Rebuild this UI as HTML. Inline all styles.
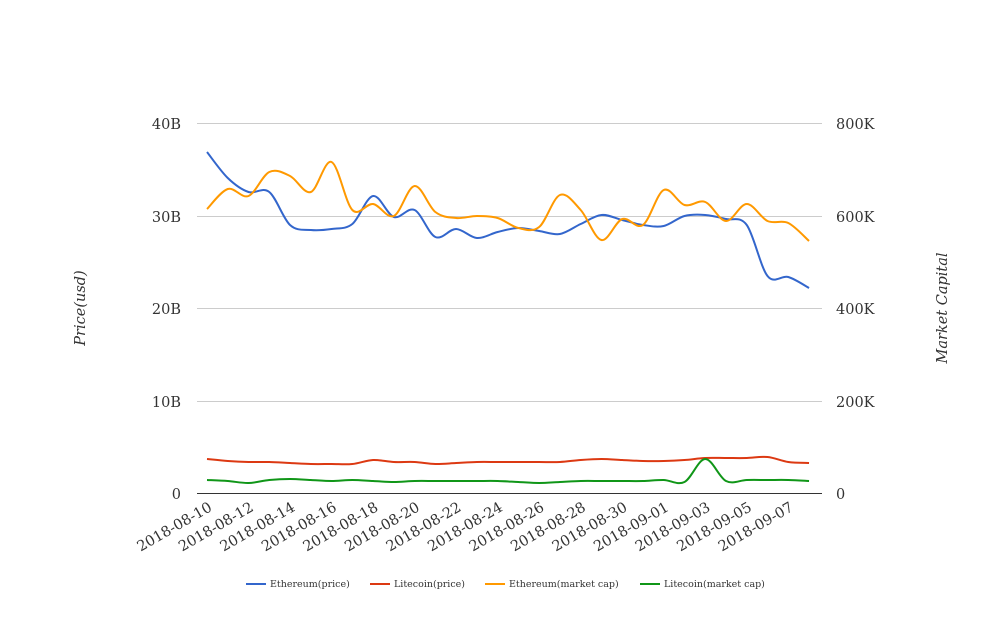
<!DOCTYPE html>
<html><head><meta charset="utf-8"><style>
body{margin:0;background:#fff}
svg text{font-family:"DejaVu Serif","Liberation Serif",serif;fill:#333}
</style></head><body>
<svg id="s" width="1008" height="616" xmlns="http://www.w3.org/2000/svg">
<g stroke="#ccc" stroke-width="1">
<line x1="197" x2="822" y1="123.5" y2="123.5"/>
<line x1="197" x2="822" y1="216.5" y2="216.5"/>
<line x1="197" x2="822" y1="308.5" y2="308.5"/>
<line x1="197" x2="822" y1="401.5" y2="401.5"/>
</g>
<line x1="197" x2="822" y1="493.5" y2="493.5" stroke="#333"/>
<g font-size="14.5" text-anchor="end">
<text x="181" y="129">40B</text><text x="181" y="222">30B</text><text x="181" y="314">20B</text><text x="181" y="407">10B</text><text x="181" y="499">0</text>
</g>
<g font-size="14.5" text-anchor="start">
<text x="836" y="129">800K</text><text x="836" y="222">600K</text><text x="836" y="314">400K</text><text x="836" y="407">200K</text><text x="836" y="499">0</text>
</g>
<text transform="translate(85,308) rotate(-90)" font-size="14.5" font-style="italic" text-anchor="middle">Price(usd)</text>
<text transform="translate(947,308) rotate(-90)" font-size="14.5" font-style="italic" text-anchor="middle">Market Capital</text>
<g id="xl" font-size="14.5" text-anchor="end"></g>
<g id="lines" fill="none" stroke-width="2"></g>
<g font-size="9.5">
<line x1="246" x2="266" y1="584" y2="584" stroke="#3366cc" stroke-width="2"/><text x="270" y="587">Ethereum(price)</text>
<line x1="370" x2="390" y1="584" y2="584" stroke="#dc3912" stroke-width="2"/><text x="394" y="587">Litecoin(price)</text>
<line x1="485" x2="505" y1="584" y2="584" stroke="#ff9900" stroke-width="2"/><text x="509" y="587">Ethereum(market cap)</text>
<line x1="640" x2="660" y1="584" y2="584" stroke="#109618" stroke-width="2"/><text x="664" y="587">Litecoin(market cap)</text>
</g>
</svg>
<script>
var X=function(i){return 207+i*20.76};
var blue=[152,178,192,192,225,230,229,224,196,217,210,237,229,238,232,228,231,234,224,215,220,225,226,216,215,219,225,276,277,288];
var orange=[209,189,196,172,176,192,162,210,204,216,186,212,218,216,218,228,227,195,210,240,219,225,190,205,202,221,204,221,223,241];
var red=[459,461,462,462,463,464,464,464,460,462,462,464,463,462,462,462,462,462,460,459,460,461,461,460,458,458,458,457,462,463];
var green=[480,481,483,480,479,480,481,480,481,482,481,481,481,481,481,482,483,482,481,481,481,481,480,482,459,481,480,480,480,481];
function path(a){var d="M"+X(0)+","+a[0];for(var i=0;i<a.length-1;i++){var p0=a[Math.max(i-1,0)],p1=a[i],p2=a[i+1],p3=a[Math.min(i+2,a.length-1)];var x0=X(Math.max(i-1,0)),x1=X(i),x2=X(i+1),x3=X(Math.min(i+2,a.length-1));d+=" C"+(x1+(x2-x0)/6)+","+(p1+(p2-p0)/6)+" "+(x2-(x3-x1)/6)+","+(p2-(p3-p1)/6)+" "+x2+","+p2;}return d;}
var g=document.getElementById("lines"),ns="http://www.w3.org/2000/svg";
[[red,"#dc3912"],[green,"#109618"],[blue,"#3366cc"],[orange,"#ff9900"]].forEach(function(s){var p=document.createElementNS(ns,"path");p.setAttribute("d",path(s[0]));p.setAttribute("stroke",s[1]);g.appendChild(p);});
var xl=document.getElementById("xl");
var dates=["2018-08-10","2018-08-12","2018-08-14","2018-08-16","2018-08-18","2018-08-20","2018-08-22","2018-08-24","2018-08-26","2018-08-28","2018-08-30","2018-09-01","2018-09-03","2018-09-05","2018-09-07"];
dates.forEach(function(d,k){var t=document.createElementNS(ns,"text");var x=X(2*k)+6,y=510;t.setAttribute("transform","translate("+x+","+y+") rotate(-30)");t.textContent=d;xl.appendChild(t);});
</script>
</body></html>
